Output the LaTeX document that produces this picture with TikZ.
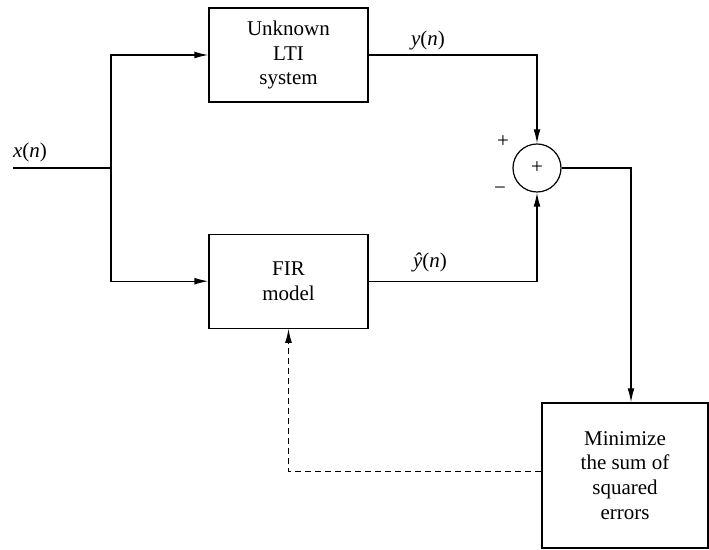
\documentclass[tikz,border=0pt]{standalone}
\usepackage{fontspec}
\setmainfont{Liberation Serif}
\usetikzlibrary{arrows.meta,positioning}

\begin{document}
\begin{tikzpicture}[x=0.5pt,y=-0.5pt,font=\fontsize{10.5}{12.4}\selectfont,line width=0.6pt,
  bx/.style={draw,fill=white,align=center,inner sep=2pt,minimum width=79.5pt,minimum height=47pt},
  sm/.style={draw,circle,minimum size=24pt,inner sep=0pt},
  ar/.style={-{Latex[length=7pt,width=3.4pt]}},
  fb/.style={ar,dash pattern=on 3pt off 2pt}]
\useasboundingbox (0,0) rectangle (709,550);

\node[bx] (lti) at (288.5,55) {Unknown\\LTI\\system};
\node[bx,below=65.5pt of lti] (fir) {FIR\\model};
\node[sm] (sum) at (537,168) {+};
\node[bx,minimum width=83pt,minimum height=72.5pt] (crit) at (625,475.5) {Minimize\\the sum of\\squared\\errors};
\coordinate (xin) at (13,168);
\coordinate (split) at (111,168);

\draw (xin) -- (split);
\draw[ar] (split) |- (lti.west);
\draw[ar] (split) |- (fir.west);
\draw[ar] (lti.east) -| (sum.north);
\draw[ar] (fir.east) -| (sum.south);
\draw[ar] (sum.east) -| ([xshift=3pt]crit.north);
\draw[fb] ([yshift=2pt]crit.west) -| (fir.south);

\node (xl) at (30,152) {\textit{x}(\textit{n})};
\node (yl) at (428,40) {\textit{y}(\textit{n})};
\node (yhl) at (430,262) {\textit{ŷ}(\textit{n})};
\node (pl) at (503,142) {+};
\node (ml) at (500,191) {−};
\end{tikzpicture}
\end{document}
